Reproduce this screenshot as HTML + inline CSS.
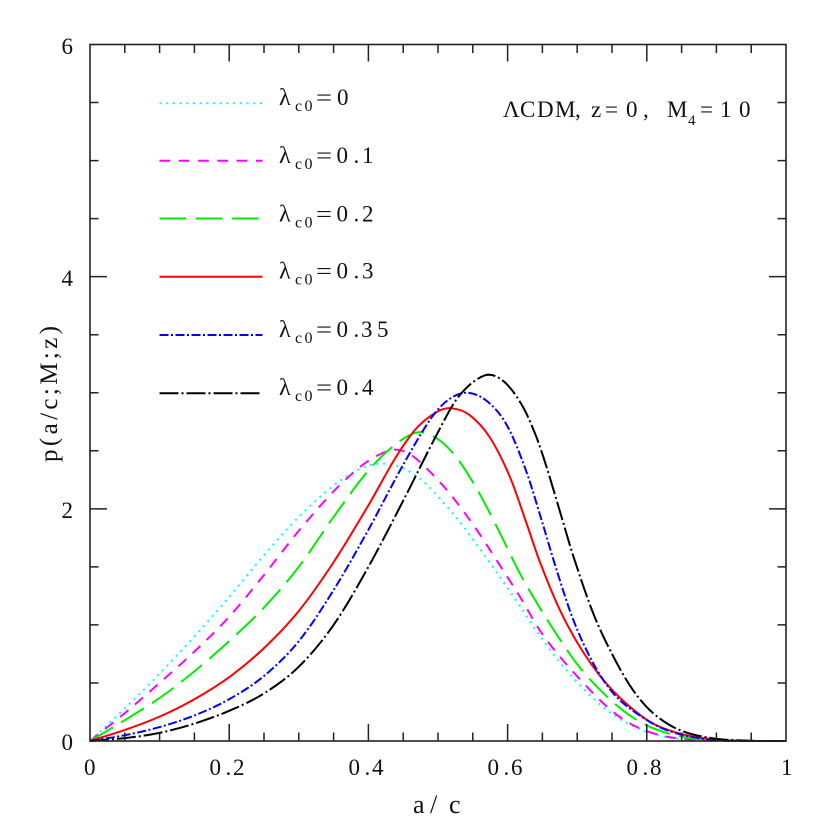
<!DOCTYPE html>
<html><head><meta charset="utf-8"><style>
html,body{margin:0;padding:0;background:#fff;}
svg{display:block;}
text{font-family:"Liberation Serif","DejaVu Serif",serif;fill:#111;}
</style></head><body>
<svg id="s" width="830" height="830" viewBox="0 0 830 830" xmlns="http://www.w3.org/2000/svg">
<rect width="830" height="830" fill="#fff"/>
<defs><clipPath id="cp"><rect x="90" y="30" width="697" height="712"/></clipPath></defs>
<g id="curves" clip-path="url(#cp)" fill="none" stroke-width="2"></g>
<g id="ticks" stroke="#222" stroke-width="1.5" fill="none"></g>
<rect x="90" y="44.5" width="696" height="696.5" fill="none" stroke="#222" stroke-width="1.6"/>
<g font-size="23">
<text x="84" y="775">0</text>
<text x="209.5 225.5 233" y="775">0.2</text>
<text x="348.5 364.5 372" y="775">0.4</text>
<text x="487.5 503.5 511" y="775">0.6</text>
<text x="626.5 642.5 650" y="775">0.8</text>
<text x="781" y="775">1</text>
</g>
<g font-size="23" text-anchor="end">
<text x="73" y="750">0</text>
<text x="73" y="518">2</text>
<text x="73" y="286">4</text>
<text x="73" y="54">6</text>
</g>
<text x="413 430 449" y="813" font-size="26">a/c</text>
<text transform="translate(57,394) rotate(-90)" font-size="25" text-anchor="middle" textLength="136" lengthAdjust="spacing">p(a/c;M;z)</text>
<g font-size="23">
<text x="503 520 537 555 575" y="117">ΛCDM,</text>
<text x="591 605 626 643" y="117">z=0,</text>
<text x="667" y="117">M</text>
<text x="688" y="125" font-size="15">4</text>
<text x="700 720 739" y="117">=10</text>
</g>
<g id="legend"></g>
</svg>
<script>
(function(){
var NS="http://www.w3.org/2000/svg";
var X0=90,W=696,Y1=741,SY=116.08;
function px(x){return X0+W*x;} function py(p){return Y1-SY*p;}
function el(tag,attrs,parent){var e=document.createElementNS(NS,tag);for(var k in attrs)e.setAttribute(k,attrs[k]);parent.appendChild(e);return e;}
var series=[
{c:"#00ffff",d:"2 4.7",lab:"0",pts:[[0,0],[0.05,0.28],[0.1,0.58],[0.15,0.9],[0.2,1.24],[0.25,1.6],[0.3,1.93],[0.35,2.2],[0.39,2.35],[0.42,2.39],[0.45,2.35],[0.48,2.23],[0.51,2.04],[0.54,1.82],[0.58,1.49],[0.618,1.16],[0.646,0.91],[0.675,0.68],[0.709,0.45],[0.742,0.27],[0.776,0.14],[0.819,0.045],[0.867,0.008],[0.92,0],[1,0]]},
{c:"#ff00ff",d:"10.7 8.6",lab:"0.1",pts:[[0,0],[0.05,0.24],[0.1,0.5],[0.15,0.77],[0.2,1.07],[0.25,1.43],[0.3,1.81],[0.35,2.15],[0.39,2.37],[0.42,2.48],[0.44,2.51],[0.46,2.47],[0.48,2.37],[0.513,2.16],[0.551,1.86],[0.585,1.55],[0.618,1.24],[0.646,0.956],[0.675,0.727],[0.709,0.50],[0.742,0.30],[0.776,0.15],[0.819,0.05],[0.867,0.01],[0.92,0],[1,0]]},
{c:"#00ee00",d:"26.7 9.6",lab:"0.2",pts:[[0,0],[0.05,0.18],[0.1,0.37],[0.15,0.6],[0.2,0.86],[0.25,1.15],[0.3,1.5],[0.35,1.93],[0.4,2.33],[0.44,2.56],[0.472,2.66],[0.5,2.6],[0.527,2.44],[0.556,2.17],[0.585,1.84],[0.618,1.44],[0.642,1.19],[0.666,0.96],[0.699,0.67],[0.733,0.44],[0.771,0.24],[0.809,0.11],[0.857,0.03],[0.92,0.002],[1,0]]},
{c:"#ff0000",d:"",lab:"0.3",pts:[[0,0],[0.05,0.095],[0.1,0.21],[0.15,0.36],[0.2,0.55],[0.25,0.8],[0.3,1.12],[0.35,1.54],[0.4,2.03],[0.44,2.45],[0.47,2.7],[0.5,2.84],[0.52,2.866],[0.545,2.81],[0.574,2.62],[0.603,2.28],[0.627,1.88],[0.646,1.55],[0.675,1.13],[0.704,0.81],[0.737,0.53],[0.771,0.32],[0.809,0.15],[0.857,0.05],[0.905,0.01],[0.95,0],[1,0]]},
{c:"#0000ff",d:"9 2.5 2 2.5",lab:"0.35",pts:[[0,0],[0.05,0.05],[0.1,0.12],[0.15,0.22],[0.2,0.36],[0.25,0.56],[0.3,0.86],[0.35,1.3],[0.4,1.82],[0.45,2.38],[0.49,2.78],[0.515,2.94],[0.541,3.0],[0.57,2.93],[0.599,2.72],[0.627,2.32],[0.651,1.86],[0.668,1.52],[0.694,1.05],[0.723,0.67],[0.752,0.41],[0.785,0.24],[0.828,0.095],[0.886,0.014],[0.94,0],[1,0]]},
{c:"#000000",d:"19 3 2 3",lab:"0.4",pts:[[0,0],[0.05,0.025],[0.1,0.07],[0.15,0.15],[0.2,0.26],[0.25,0.41],[0.3,0.64],[0.35,1.0],[0.4,1.5],[0.45,2.07],[0.5,2.66],[0.53,2.97],[0.5675,3.15],[0.594,3.10],[0.62,2.90],[0.64,2.64],[0.656,2.36],[0.68,1.88],[0.694,1.60],[0.723,1.10],[0.752,0.727],[0.78,0.44],[0.809,0.24],[0.847,0.095],[0.895,0.023],[0.95,0.002],[1,0]]}
];
function pathFrom(pts){
  var n=pts.length,m=[];
  for(var i=0;i<n;i++){
    var a=pts[Math.max(0,i-1)],b=pts[Math.min(n-1,i+1)];
    m.push((b[1]-a[1])/(b[0]-a[0]));
  }
  var d="M"+px(pts[0][0]).toFixed(2)+","+py(pts[0][1]).toFixed(2);
  for(var i=0;i<n-1;i++){
    var x1=pts[i][0],y1=pts[i][1],x2=pts[i+1][0],y2=pts[i+1][1],h=x2-x1;
    var c1x=x1+h/3,c1y=y1+m[i]*h/3,c2x=x2-h/3,c2y=y2-m[i+1]*h/3;
    d+=" C"+px(c1x).toFixed(2)+","+py(c1y).toFixed(2)+" "+px(c2x).toFixed(2)+","+py(c2y).toFixed(2)+" "+px(x2).toFixed(2)+","+py(y2).toFixed(2);
  }
  return d;
}
var g=document.getElementById("curves"),lg=document.getElementById("legend");
var ly=[103.3,160.7,218.5,276.7,335,393.3],by=[105,163.2,221.4,278.6,336.8,395];
var xs={"0":"337","0.1":"336.5 353.5 362","0.2":"336.5 353.5 362","0.3":"336.5 353.5 362","0.35":"336.5 353.5 361 377","0.4":"336.5 353.5 362"};
series.forEach(function(s,i){
  var a={d:pathFrom(s.pts),stroke:s.c,"stroke-width":"2",fill:"none"};
  if(s.d)a["stroke-dasharray"]=s.d;
  el("path",a,g);
  var la={x1:"159.5",x2:"262.5",y1:ly[i],y2:ly[i],stroke:s.c,"stroke-width":"2"};
  if(s.d)la["stroke-dasharray"]=s.d;
  el("line",la,lg);
  var t1=el("text",{x:"279",y:by[i],"font-size":"24"},lg);t1.textContent="λ";
  var t2=el("text",{x:"295 304.5",y:by[i]+6,"font-size":"16"},lg);t2.textContent="c0";
  var t3=el("text",{x:"316",y:by[i],"font-size":"23",textLength:"16",lengthAdjust:"spacingAndGlyphs"},lg);t3.textContent="=";
  var t4=el("text",{x:xs[s.lab],y:by[i],"font-size":"23"},lg);
  t4.textContent=s.lab;
});
var tk=document.getElementById("ticks"),d="";
for(var k=1;k<20;k++){
  var x=px(k*0.05),L=(k%4==0)?17:8.5;
  d+="M"+x+",741V"+(741-L)+"M"+x+",44.5V"+(44.5+L);
}
for(var k=1;k<12;k++){
  var y=py(k*0.5),L=(k%4==0)?17:8.5;
  d+="M90,"+y+"H"+(90+L)+"M786,"+y+"H"+(786-L);
}
el("path",{d:d},tk);
})();
</script>
</body></html>
